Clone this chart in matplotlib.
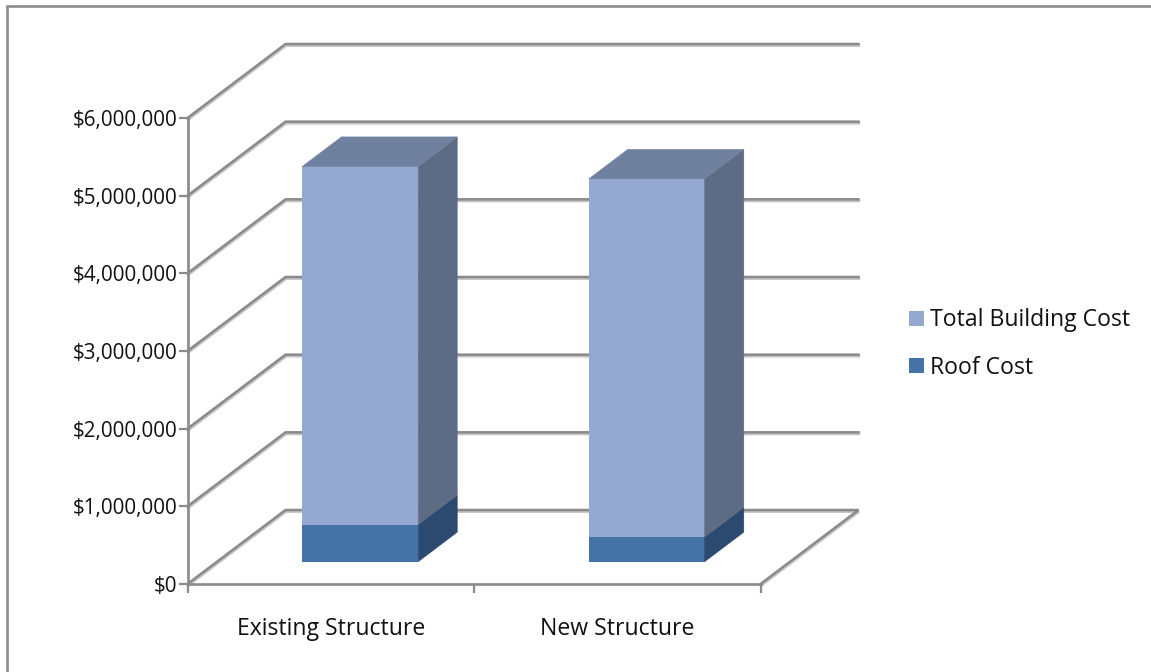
import matplotlib
matplotlib.use("Agg")
import matplotlib.pyplot as plt
from matplotlib.patches import Polygon
from matplotlib.lines import Line2D
from matplotlib.ticker import FuncFormatter
import matplotlib.patheffects as pe

plt.rcParams['font.family'] = ['Open Sans', 'DejaVu Sans']

categories = ["Existing Structure", "New Structure"]
roof_cost = [480000, 320000]
total_building_cost = [4610000, 4610000]
y_ticks = [0, 1000000, 2000000, 3000000, 4000000, 5000000, 6000000]

W, H = 1151, 672
fig = plt.figure(figsize=(W / 100, H / 100), dpi=100, facecolor='white')
L, R, T, B = 187.5, 760.5, 118, 584
ax = fig.add_axes([L / W, 1 - B / H, (R - L) / W, (B - T) / H])
ax.set_xlim(0, len(categories))
ax.set_ylim(0, 6000000)
ax.patch.set_alpha(0)

# oblique projection of the depth axis, expressed in data units
DX = 98 / (R - L) * len(categories)
DY = 74 / (B - T) * 6000000
GRID = '#8a8a8a'
shadow = [pe.SimpleLineShadow(offset=(0.4, -1.2), shadow_color='#b4b4b4', alpha=0.8), pe.Normal()]


def proj(x, y, d):
    return x + DX * d, y + DY * d


# walls and floor
for v in y_ticks:
    pts = [proj(0, v, 0), proj(0, v, 1), proj(len(categories), v, 1)]
    if v == 0:
        pts.append(proj(len(categories), v, 0))
    ax.plot(*zip(*pts), color=GRID, lw=1.8, clip_on=False, zorder=1,
            solid_joinstyle='miter', path_effects=shadow)

# bars
BAR_W = 116 / (R - L) * len(categories)
D0, D1 = 0.30, 0.70
xs = [i + 0.5 + DX * D0 for i in range(len(categories))]
y0 = DY * D0
TOTAL_FRONT, TOTAL_SIDE, TOTAL_TOP = '#95A9D0', '#5D6B85', '#6F819F'
ROOF_FRONT, ROOF_SIDE = '#4572A7', '#2C4A70'

b_roof = ax.bar(xs, roof_cost, width=BAR_W, bottom=y0, color=ROOF_FRONT, zorder=3, clip_on=False, label='Roof Cost')
tops_roof = [y0 + r for r in roof_cost]
b_tot = ax.bar(xs, total_building_cost, width=BAR_W, bottom=tops_roof, color=TOTAL_FRONT, zorder=3,
               clip_on=False, label='Total Building Cost')
dx_bar, dy_bar = DX * (D1 - D0), DY * (D1 - D0)


def side(x, lo, hi, color):
    xr = x + BAR_W / 2
    ax.add_patch(Polygon([(xr, lo), (xr + dx_bar, lo + dy_bar), (xr + dx_bar, hi + dy_bar), (xr, hi)],
                         closed=True, fc=color, ec=color, lw=0.3, zorder=3, clip_on=False))


for x, r, t in zip(xs, roof_cost, total_building_cost):
    side(x, y0, y0 + r, ROOF_SIDE)
    side(x, y0 + r, y0 + r + t, TOTAL_SIDE)
    top = y0 + r + t
    xl, xr = x - BAR_W / 2, x + BAR_W / 2
    ax.add_patch(Polygon([(xl, top), (xr, top), (xr + dx_bar, top + dy_bar), (xl + dx_bar, top + dy_bar)],
                         closed=True, fc=TOTAL_TOP, ec=TOTAL_TOP, lw=0.3, zorder=3, clip_on=False))

# axes
for s in ('top', 'right'):
    ax.spines[s].set_visible(False)
for s in ('left', 'bottom'):
    ax.spines[s].set_color(GRID)
    ax.spines[s].set_linewidth(1.9)
    ax.spines[s].set_zorder(2)
ax.set_yticks(y_ticks)
ax.yaxis.set_major_formatter(FuncFormatter(lambda v, _: f"${v:,.0f}"))
ax.tick_params(axis='y', length=6.5, width=1.6, color=GRID, labelsize=14.9, labelcolor='#111111', pad=0.8)
ax.set_xticks(range(len(categories) + 1))
ax.set_xticklabels([])
ax.set_xticks([i + 0.5 for i in range(len(categories))], minor=True)
ax.set_xticklabels(categories, minor=True)
ax.tick_params(axis='x', which='major', length=6.5, width=1.6, color=GRID)
ax.tick_params(axis='x', which='minor', length=0, labelsize=16.6, labelcolor='#111111', pad=23.5)

# legend
fig.legend(handles=[b_tot, b_roof], labels=['Total Building Cost', 'Roof Cost'],
           loc='center left', bbox_to_anchor=(909 / W, 1 - 344 / H), frameon=False,
           fontsize=16.6, labelcolor='#111111', handlelength=0.65, handleheight=0.65,
           handletextpad=0.28, labelspacing=1.0, borderpad=0, borderaxespad=0)

# chart frame (top and left edges)
fig.add_artist(Line2D([6.5 / W, 6.5 / W, 1], [0, 1 - 6 / H, 1 - 6 / H], color='#8c8c8c', lw=1.9,
                      solid_joinstyle='miter'))

fig.savefig('out.png', dpi=100, facecolor='white')
